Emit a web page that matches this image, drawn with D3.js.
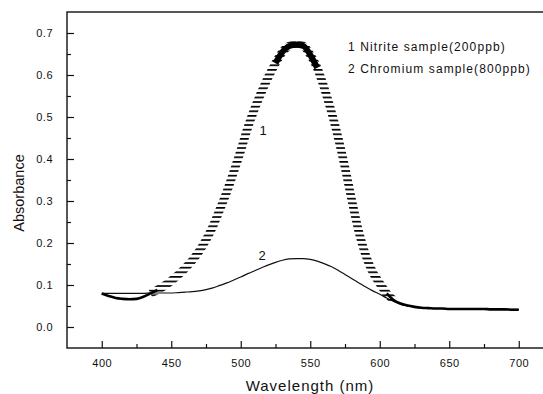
<!DOCTYPE html>
<html>
<head>
  <meta charset="UTF-8">
  <title>Absorbance spectra</title>
  <script src="https://d3js.org/d3.v7.min.js"></script>
  <style>
    body { margin: 0; background: #fff; }
    svg { font-family: "Liberation Sans", Arial, sans-serif; }
    .tick text { font-size: 11px; fill: #111; letter-spacing: 0.5px; }
  </style>
</head>
<body>
  <svg></svg>
  <script>
    // wavelengths (nm), 5 nm step
    const wavelengths = [400, 405, 410, 415, 420, 425, 430, 435, 440, 445, 450, 455, 460, 465, 470, 475, 480, 485, 490, 495,
      500, 505, 510, 515, 520, 525, 530, 535, 540, 545, 550, 555, 560, 565, 570, 575, 580, 585, 590, 595,
      600, 605, 610, 615, 620, 625, 630, 635, 640, 645, 650, 655, 660, 665, 670, 675, 680, 685, 690, 695, 700];

    // 1 Nitrite sample (200 ppb)
    const nitrite = [0.080, 0.074, 0.069, 0.067, 0.066, 0.067, 0.072, 0.080, 0.088, 0.098, 0.110, 0.124, 0.140, 0.158, 0.180, 0.207, 0.240, 0.280, 0.322, 0.370,
      0.420, 0.474, 0.520, 0.560, 0.596, 0.628, 0.655, 0.669, 0.672, 0.669, 0.648, 0.617, 0.570, 0.515, 0.452, 0.380, 0.300, 0.226, 0.170, 0.130,
      0.104, 0.080, 0.064, 0.056, 0.051, 0.048, 0.046, 0.045, 0.044, 0.044, 0.043, 0.043, 0.043, 0.043, 0.043, 0.043, 0.042, 0.042, 0.042, 0.041, 0.041];

    // 2 Chromium sample (800 ppb)
    const chromium = [0.080, 0.080, 0.080, 0.080, 0.080, 0.080, 0.080, 0.081, 0.081, 0.081, 0.081, 0.082, 0.083, 0.084, 0.086, 0.089, 0.093, 0.099, 0.105, 0.112,
      0.119, 0.127, 0.134, 0.141, 0.148, 0.154, 0.159, 0.162, 0.163, 0.163, 0.161, 0.157, 0.151, 0.144, 0.135, 0.125, 0.115, 0.105, 0.095, 0.086,
      0.078, 0.069, 0.061, 0.054, 0.050, 0.047, 0.046, 0.045, 0.044, 0.044, 0.043, 0.043, 0.043, 0.043, 0.043, 0.043, 0.042, 0.042, 0.042, 0.042, 0.042];

    const xTicks = [400, 450, 500, 550, 600, 650, 700];
    const xMinor = [425, 475, 525, 575, 625, 675];
    const yTicks = [0.0, 0.1, 0.2, 0.3, 0.4, 0.5, 0.6, 0.7];
    const yMinor = [0.05, 0.15, 0.25, 0.35, 0.45, 0.55, 0.65];
    const legendLines = ['1 Nitrite sample(200ppb)', '2 Chromium sample(800ppb)'];

    const W = 543, H = 394;
    const svg = d3.select('svg').attr('width', W).attr('height', H);

    const x = d3.scaleLinear().domain([375, 725]).range([67, 553.5]);
    const y = d3.scaleLinear().domain([-0.05, 0.75]).range([348, 12]);

    const s1 = wavelengths.map((w, i) => ({ w, a: nitrite[i] }));
    const s2 = wavelengths.map((w, i) => ({ w, a: chromium[i] }));

    const line = d3.line().x(d => x(d.w)).y(d => y(d.a)).curve(d3.curveMonotoneX);

    // horizontal hatch used to render the nitrite trace
    const defs = svg.append('defs');
    const pat = defs.append('pattern')
      .attr('id', 'hatch')
      .attr('patternUnits', 'userSpaceOnUse')
      .attr('width', 10).attr('height', 4.6);
    pat.append('rect').attr('width', 10).attr('height', 1.7).attr('fill', '#fff');
    defs.append('mask').attr('id', 'hatchMask')
      .append('rect').attr('width', W).attr('height', H).attr('fill', 'url(#hatch)');

    const plot = svg.append('g');

    // curve 2 (thin solid)
    plot.append('path')
      .datum(s2)
      .attr('fill', 'none')
      .attr('stroke', '#111')
      .attr('stroke-width', 1.2)
      .attr('d', line);

    // curve 1: hatched band on the steep flanks, solid where it is flat
    const hatched = plot.append('g').attr('mask', 'url(#hatchMask)');
    [[435, 540], [540, 610]].forEach(([a, b]) => {
      hatched.append('path')
        .datum(s1.filter(d => d.w >= a && d.w <= b))
        .attr('fill', 'none')
        .attr('stroke', '#000')
        .attr('stroke-width', 8.5)
        .attr('d', line);
    });

    const solidParts = [[400, 440, 2.6], [525, 555, 6], [603, 700, 2.6]];
    solidParts.forEach(([a, b, sw]) => {
      plot.append('path')
        .datum(s1.filter(d => d.w >= a && d.w <= b))
        .attr('fill', 'none')
        .attr('stroke', '#000')
        .attr('stroke-width', sw)
        .attr('d', line);
    });

    // frame
    svg.append('rect')
      .attr('x', x.range()[0]).attr('y', y.range()[1])
      .attr('width', x.range()[1] - x.range()[0])
      .attr('height', y.range()[0] - y.range()[1])
      .attr('fill', 'none').attr('stroke', '#111').attr('stroke-width', 1.4);

    // axes with inward ticks
    svg.append('g').attr('transform', `translate(0,${y.range()[0]})`)
      .call(d3.axisBottom(x).tickValues(xTicks).tickSize(-7).tickPadding(11).tickFormat(d3.format('d')));
    svg.append('g').attr('transform', `translate(0,${y.range()[0]})`)
      .call(d3.axisBottom(x).tickValues(xMinor).tickSize(-4).tickFormat(''));
    svg.append('g').attr('transform', `translate(${x.range()[0]},0)`)
      .call(d3.axisLeft(y).tickValues(yTicks).tickSize(-7).tickPadding(14).tickFormat(d3.format('.1f')));
    svg.append('g').attr('transform', `translate(${x.range()[0]},0)`)
      .call(d3.axisLeft(y).tickValues(yMinor).tickSize(-4).tickFormat(''));
    svg.selectAll('.domain').remove();
    svg.selectAll('.tick line').attr('stroke', '#111').attr('stroke-width', 1.2);

    // axis titles
    svg.append('text')
      .attr('x', 310).attr('y', 391)
      .attr('text-anchor', 'middle')
      .attr('font-size', 15).attr('letter-spacing', 1)
      .attr('fill', '#111')
      .text('Wavelength (nm)');
    svg.append('text')
      .attr('transform', 'translate(24,193) rotate(-90)')
      .attr('text-anchor', 'middle')
      .attr('font-size', 14.5)
      .attr('fill', '#111')
      .text('Absorbance');

    // curve labels
    svg.append('text').attr('x', 263).attr('y', 135).attr('text-anchor', 'middle')
      .attr('font-size', 13).attr('fill', '#111').text('1');
    svg.append('text').attr('x', 262).attr('y', 260).attr('text-anchor', 'middle')
      .attr('font-size', 13).attr('fill', '#111').text('2');

    // legend text
    svg.selectAll('.legend')
      .data(legendLines)
      .enter().append('text')
      .attr('class', 'legend')
      .attr('x', 348)
      .attr('y', (d, i) => 51 + i * 21.5)
      .attr('font-size', 12)
      .attr('letter-spacing', 1.1)
      .attr('fill', '#111')
      .text(d => d);
  </script>
</body>
</html>
